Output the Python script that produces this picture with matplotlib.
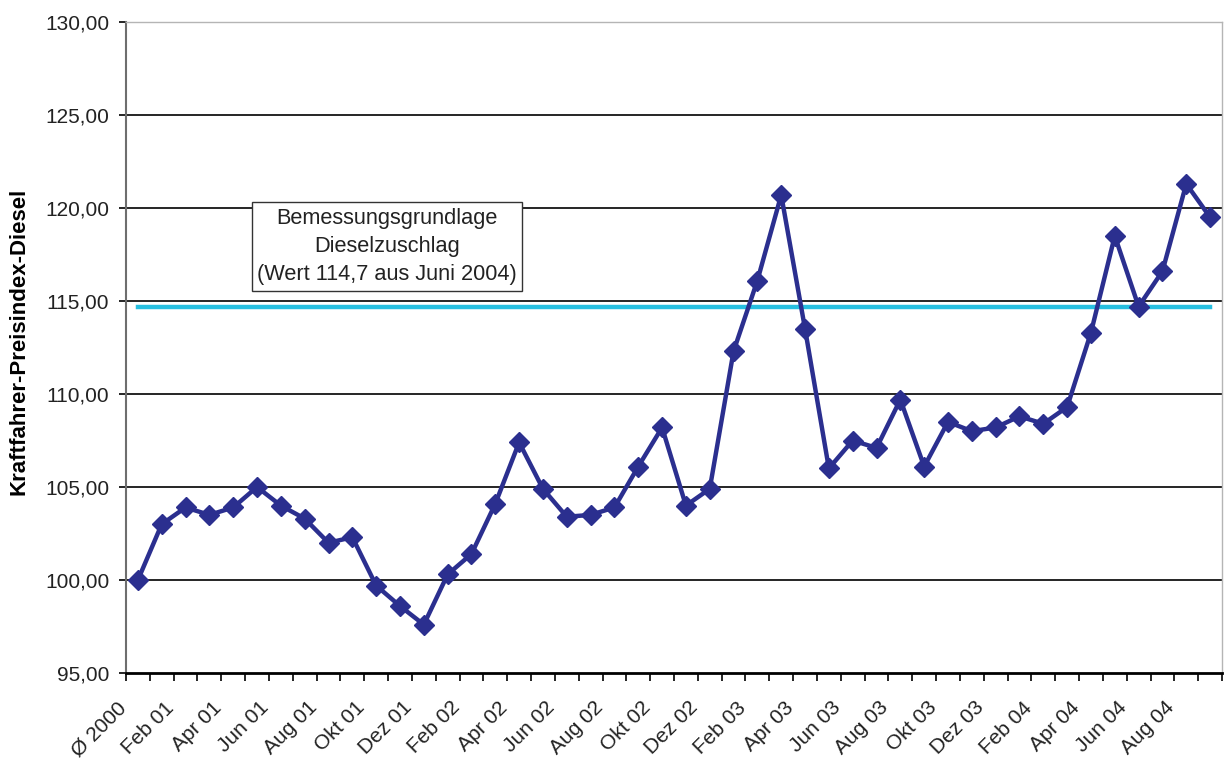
import numpy as np
import matplotlib
matplotlib.use("Agg")
import matplotlib.pyplot as plt
import matplotlib.transforms as mtransforms
from matplotlib.patches import Rectangle
from matplotlib.ticker import FixedLocator, FuncFormatter

plt.rcParams['font.family'] = ['Liberation Sans', 'DejaVu Sans']

# Monthly categories: yearly average 2000, then Jan 2001 .. Sep 2004
categories = [
    "Ø 2000",
    "Jan 01", "Feb 01", "Mär 01", "Apr 01", "Mai 01", "Jun 01",
    "Jul 01", "Aug 01", "Sep 01", "Okt 01", "Nov 01", "Dez 01",
    "Jan 02", "Feb 02", "Mär 02", "Apr 02", "Mai 02", "Jun 02",
    "Jul 02", "Aug 02", "Sep 02", "Okt 02", "Nov 02", "Dez 02",
    "Jan 03", "Feb 03", "Mär 03", "Apr 03", "Mai 03", "Jun 03",
    "Jul 03", "Aug 03", "Sep 03", "Okt 03", "Nov 03", "Dez 03",
    "Jan 04", "Feb 04", "Mär 04", "Apr 04", "Mai 04", "Jun 04",
    "Jul 04", "Aug 04", "Sep 04",
]

# Kraftfahrer-Preisindex Diesel (Ø 2000 = 100)
diesel_index = [
    100.0,
    103.0, 103.9, 103.5, 103.9, 105.0, 104.0,
    103.3, 102.0, 102.3, 99.7, 98.6, 97.6,
    100.3, 101.4, 104.1, 107.4, 104.9, 103.4,
    103.5, 103.9, 106.1, 108.2, 104.0, 104.9,
    112.3, 116.1, 120.7, 113.5, 106.0, 107.5,
    107.1, 109.7, 106.1, 108.5, 108.0, 108.2,
    108.8, 108.4, 109.3, 113.3, 118.5, 114.7,
    116.6, 121.3, 119.5,
]

# Reference value for the diesel surcharge (June 2004)
surcharge_basis = 114.7

y_ticks = [95, 100, 105, 110, 115, 120, 125, 130]

navy = '#2b2f8f'
cyan = '#27bfe0'

fig = plt.figure(figsize=(12.24, 7.58), dpi=100)
ax = fig.add_axes([126 / 1224, 1 - 673 / 758, 1096 / 1224, 651 / 758])

x = np.arange(len(categories))
ax.set_xlim(-0.5, len(categories) - 0.5)
ax.set_ylim(y_ticks[0], y_ticks[-1])

# horizontal gridlines (inner values only)
for v in y_ticks[1:-1]:
    ax.axhline(v, color='black', lw=1.2, zorder=1)

ax.plot(x, [surcharge_basis] * len(x), color=cyan, lw=3.2, zorder=2,
        solid_capstyle='projecting')
ax.plot(x, diesel_index, color=navy, lw=3.2, marker='D', ms=10,
        markeredgecolor=navy, zorder=3)

# spines
ax.spines['top'].set_color('#b5b5b5')
ax.spines['right'].set_color('#b5b5b5')
ax.spines['top'].set_linewidth(1.0)
ax.spines['right'].set_linewidth(1.0)
ax.spines['left'].set_color('#6e6e6e')
ax.spines['left'].set_linewidth(1.5)
ax.spines['bottom'].set_color('black')
ax.spines['bottom'].set_linewidth(2.0)

# y axis
ax.yaxis.set_major_locator(FixedLocator(y_ticks))
ax.yaxis.set_major_formatter(FuncFormatter(lambda v, p: f"{v:.2f}".replace('.', ',')))
ax.tick_params(axis='y', direction='out', length=5, width=1.2, pad=7,
               labelsize=15, colors='black', labelcolor='#222222')

# x axis: labels on every second category, tick marks between categories
label_pos = x[::2]
ax.xaxis.set_major_locator(FixedLocator(label_pos))
ax.set_xticklabels([categories[i] for i in label_pos], rotation=45,
                   ha='right', va='top', fontsize=15, color='#222222')
ax.xaxis.set_minor_locator(FixedLocator(np.arange(len(categories) + 1) - 0.5))
ax.tick_params(axis='x', which='major', length=0, pad=18)
ax.tick_params(axis='x', which='minor', direction='out', length=6, width=1.2,
               colors='black')
offset = mtransforms.ScaledTranslation(-8 / 100, 0, fig.dpi_scale_trans)
for lbl in ax.get_xticklabels():
    lbl.set_transform(lbl.get_transform() + offset)

ax.set_ylabel("Kraftfahrer-Preisindex-Diesel", fontsize=16, fontweight='bold')
ax.yaxis.set_label_coords(-0.088, 0.51)

# annotation box for the surcharge basis
ax.add_patch(Rectangle((0.115, 0.587), 0.2463, 0.1367, transform=ax.transAxes,
                       facecolor='white', edgecolor='#333333', linewidth=1.0,
                       zorder=4))
ax.text(0.238, 0.655,
        "Bemessungsgrundlage\nDieselzuschlag\n(Wert 114,7 aus Juni 2004)",
        transform=ax.transAxes, ha='center', va='center', ma='center',
        fontsize=15.7, color='#222222', linespacing=1.42, zorder=5)

fig.savefig('out.png', dpi=100, facecolor='white')
